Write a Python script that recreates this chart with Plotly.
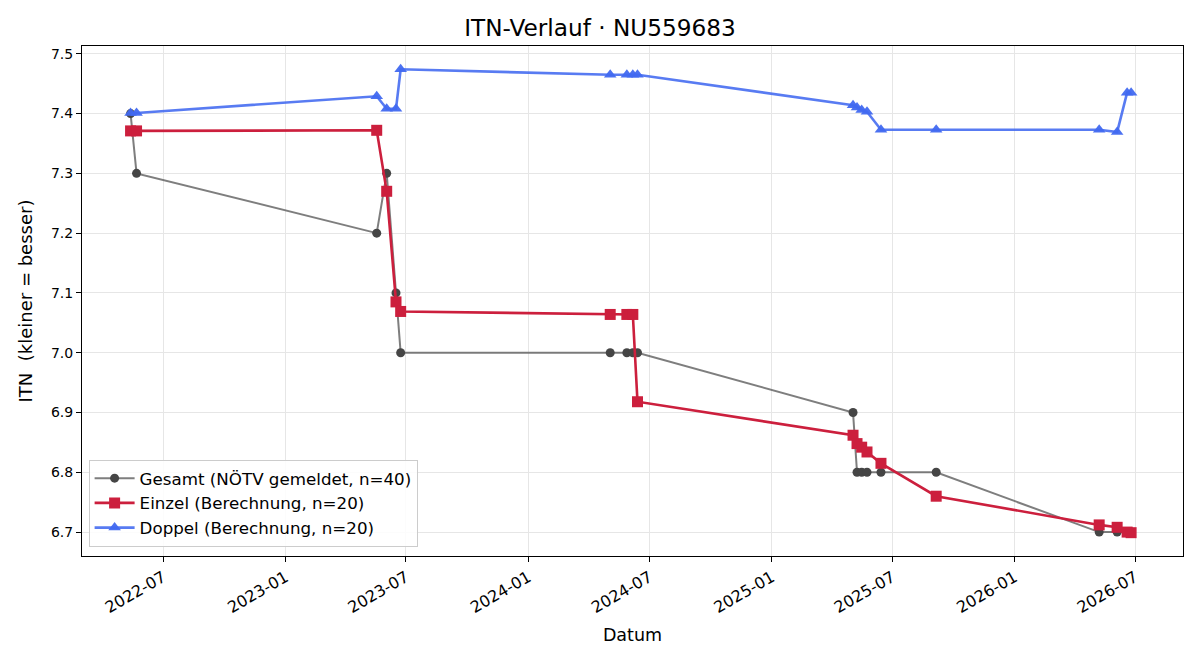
import plotly.graph_objects as go

# Dates shared by the series
dates = [
    "2022-05-13", "2022-05-22", "2023-05-18", "2023-06-02", "2023-06-16",
    "2023-06-23", "2024-05-03", "2024-05-28", "2024-06-06", "2024-06-13",
    "2025-05-03", "2025-05-09", "2025-05-16", "2025-05-24", "2025-06-14",
    "2025-09-05", "2026-05-08", "2026-06-04", "2026-06-19", "2026-06-25",
]

gesamt = [7.4, 7.3, 7.2, 7.3, 7.1, 7.0, 7.0, 7.0, 7.0, 7.0,
          6.9, 6.8, 6.8, 6.8, 6.8, 6.8, 6.7, 6.7, 6.7, 6.7]

einzel = [7.371, 7.371, 7.372, 7.270, 7.085, 7.069, 7.064, 7.064, 7.064, 6.918,
          6.862, 6.848, 6.842, 6.834, 6.815, 6.760, 6.712, 6.708, 6.700, 6.699]

doppel = [7.401, 7.401, 7.429, 7.408, 7.408, 7.474, 7.465, 7.465, 7.465, 7.465,
          7.414, 7.410, 7.406, 7.403, 7.373, 7.373, 7.373, 7.369, 7.435, 7.435]

tick_vals = ["2022-07-01", "2023-01-01", "2023-07-01", "2024-01-01", "2024-07-01",
             "2025-01-01", "2025-07-01", "2026-01-01", "2026-07-01"]
tick_text = ["2022-07", "2023-01", "2023-07", "2024-01", "2024-07",
             "2025-01", "2025-07", "2026-01", "2026-07"]
y_ticks = [6.7, 6.8, 6.9, 7.0, 7.1, 7.2, 7.3, 7.4, 7.5]

FONT = "DejaVu Sans"

fig = go.Figure()
fig.add_trace(go.Scatter(
    x=dates, y=gesamt, mode="lines+markers",
    name="Gesamt (NÖTV gemeldet, n=40)",
    line=dict(color="rgba(90,90,90,0.78)", width=2),
    marker=dict(symbol="circle", size=9, color="#454545"),
))
fig.add_trace(go.Scatter(
    x=dates, y=einzel, mode="lines+markers",
    name="Einzel (Berechnung, n=20)",
    line=dict(color="#cc1f3d", width=2.6),
    marker=dict(symbol="square", size=11, color="#cc1f3d"),
))
fig.add_trace(go.Scatter(
    x=dates, y=doppel, mode="lines+markers",
    name="Doppel (Berechnung, n=20)",
    line=dict(color="rgba(65,105,240,0.88)", width=2.6),
    marker=dict(symbol="triangle-up", size=11, color="rgba(65,105,240,0.95)"),
))

fig.update_layout(
    width=1200, height=660,
    margin=dict(l=82, r=17, t=46, b=104),
    paper_bgcolor="white", plot_bgcolor="white",
    font=dict(family=FONT, size=14, color="black"),
    title=dict(text="ITN-Verlauf · NU559683", x=0.5, xanchor="center",
               y=0.958, yanchor="middle", font=dict(size=23.2, family=FONT)),
    legend=dict(x=0.006, y=0.018, xanchor="left", yanchor="bottom",
                bgcolor="rgba(255,255,255,0.85)", bordercolor="#cccccc",
                borderwidth=1, font=dict(size=16.7, family=FONT),
                tracegroupgap=0, itemwidth=40),
    showlegend=True,
)

fig.update_xaxes(
    range=["2022-03-01", "2026-09-11"],
    tickvals=tick_vals, ticktext=tick_text, tickangle=-30,
    ticks="outside", ticklen=5, tickcolor="black",
    showline=True, linecolor="black", linewidth=1, mirror=True,
    showgrid=True, gridcolor="#e6e6e6", gridwidth=1,
    tickfont=dict(size=16, family=FONT),
    title=dict(text="Datum", font=dict(size=17.5, family=FONT), standoff=12),
    zeroline=False,
)
fig.update_yaxes(
    range=[6.660, 7.513],
    tickvals=y_ticks, tickformat=".1f",
    ticks="outside", ticklen=5, tickcolor="black",
    showline=True, linecolor="black", linewidth=1, mirror=True,
    showgrid=True, gridcolor="#e6e6e6", gridwidth=1,
    tickfont=dict(size=14, family=FONT),
    title=dict(text="ITN  (kleiner = besser)", font=dict(size=18, family=FONT), standoff=13),
    zeroline=False,
)

fig.write_html("out.html")
